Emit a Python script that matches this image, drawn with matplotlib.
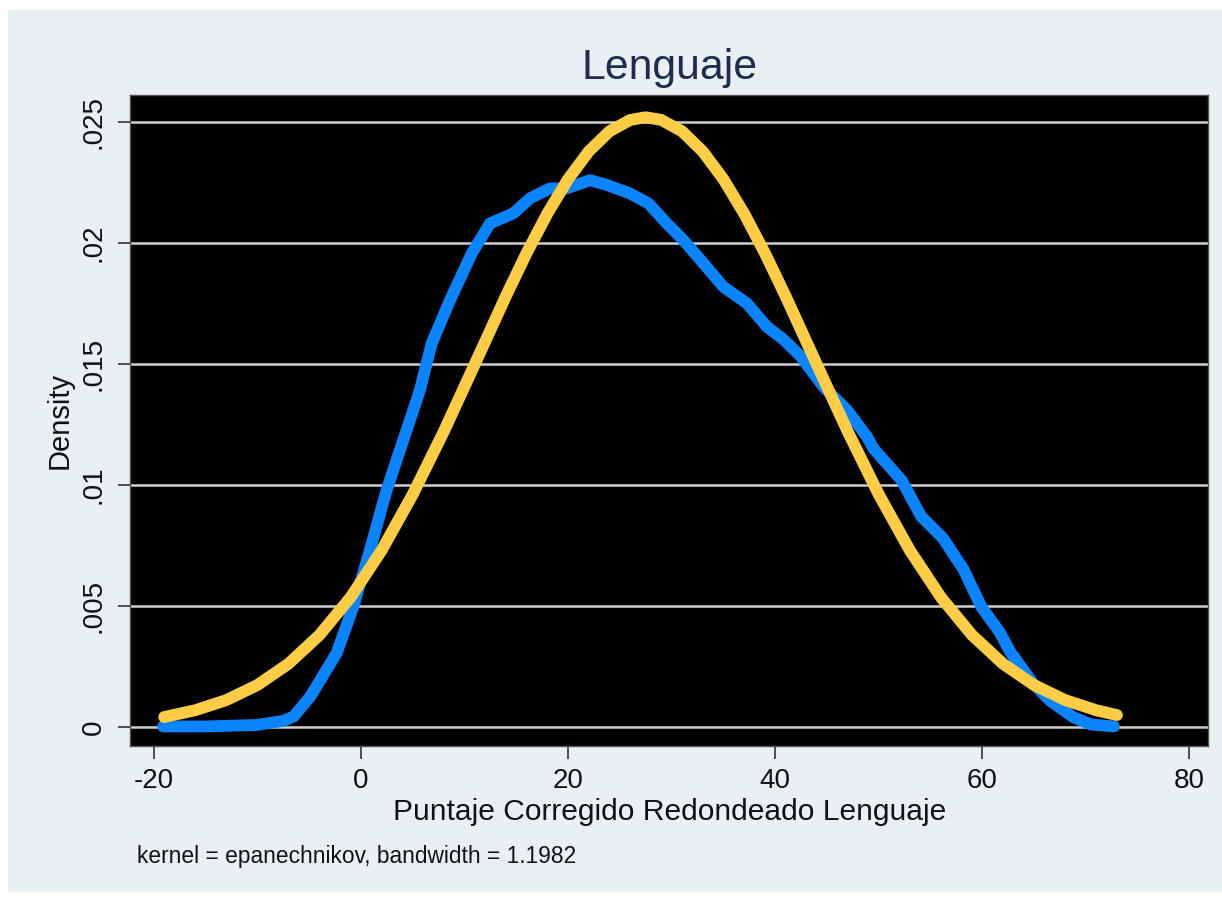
import matplotlib
matplotlib.use("Agg")
import matplotlib.pyplot as plt
from matplotlib.patches import Rectangle

# =========================
# Data
# =========================
# kernel density estimate (blue)
kernel_x = [-19.1, -15.0, -10.1, -7.5, -6.5, -4.9, -2.35, -0.74, 0.87, 2.48,
            4.09, 5.38, 5.70, 6.83, 8.60, 10.70, 12.46, 14.72, 16.33, 18.26,
            19.87, 22.13, 23.74, 25.99, 27.76, 29.54, 31.14, 33.07, 35.0,
            37.27, 39.2, 40.7, 42.4, 44.67, 46.93, 48.86, 49.5, 52.2, 54.1,
            56.2, 58.2, 59.9, 61.7, 62.7, 64.9, 66.5, 68.8, 70.5, 72.7]
kernel_y = [0.00002, 0.00002, 0.00008, 0.00025, 0.00043, 0.00125, 0.00305,
            0.00497, 0.00731, 0.00979, 0.01186, 0.01351, 0.01393, 0.01585,
            0.01764, 0.01957, 0.02081, 0.02123, 0.02185, 0.02226, 0.02226,
            0.02260, 0.02240, 0.02205, 0.02164, 0.02081, 0.02012, 0.01916,
            0.01819, 0.01751, 0.01654, 0.01605, 0.01535, 0.01406, 0.01310,
            0.01200, 0.01150, 0.01020, 0.00870, 0.00780, 0.00650, 0.00497,
            0.00390, 0.00310, 0.00180, 0.00110, 0.00040, 0.00010, 0.00002]

# normal density overlay (yellow)
normal_x = [-19, -16, -13, -10, -7, -4, -1, 2, 5, 8, 11, 14, 16, 18, 20, 22,
            24, 26, 27.5, 29, 31, 33, 35, 37, 39, 41, 44, 47, 50, 53, 56, 59,
            62, 65, 68, 71, 73]
normal_y = [0.00041, 0.00069, 0.00111, 0.00173, 0.00261, 0.00380, 0.00536,
            0.00730, 0.00961, 0.01221, 0.01500, 0.01781, 0.01959, 0.02122,
            0.02264, 0.02379, 0.02462, 0.02509, 0.02520, 0.02509, 0.02462,
            0.02379, 0.02264, 0.02122, 0.01959, 0.01781, 0.01500, 0.01221,
            0.00961, 0.00730, 0.00536, 0.00380, 0.00261, 0.00173, 0.00111,
            0.00069, 0.00049]

x_ticks = [-20, 0, 20, 40, 60, 80]
y_ticks = [0, 0.005, 0.01, 0.015, 0.02, 0.025]
y_tick_labels = ["0", ".005", ".01", ".015", ".02", ".025"]

BLUE = "#0a84ff"
YELLOW = "#ffcc45"
PANEL = "#e8f0f3"


def main():
    plt.rcParams["font.family"] = ["Liberation Sans", "DejaVu Sans"]
    plt.rcParams["axes.unicode_minus"] = False

    fig = plt.figure(figsize=(12.22, 8.97), dpi=100, facecolor="white")
    fig.patches.append(Rectangle((0.0065, 0.0056), 0.9935, 0.983,
                                 transform=fig.transFigure, facecolor=PANEL,
                                 edgecolor="none", zorder=-5))

    ax = fig.add_axes([0.1064, 0.1683, 0.8822, 0.7258])
    ax.set_zorder(2)
    ax.set_facecolor("black")

    ax.plot(kernel_x, kernel_y, color=BLUE, lw=8.5,
            solid_capstyle="round", solid_joinstyle="round", zorder=3)
    ax.plot(normal_x, normal_y, color=YELLOW, lw=8.5,
            solid_capstyle="round", solid_joinstyle="round", zorder=4)

    ax.set_xlim(-22.3, 81.8)
    ax.set_ylim(-0.00079, 0.02612)

    ax.set_xticks(x_ticks)
    ax.set_yticks(y_ticks)
    ax.set_yticklabels(y_tick_labels, rotation=90, va="center")
    ax.tick_params(axis="both", labelsize=20, length=9, width=1.2,
                   color="#333333", labelcolor="#111111")
    ax.tick_params(axis="x", pad=7)
    ax.tick_params(axis="y", pad=8)

    ax.grid(axis="y", color="#cfcfcf", lw=1.8, zorder=1)
    ax.set_axisbelow(True)
    for side in ax.spines.values():
        side.set_color("#555555")
        side.set_linewidth(1.0)

    fig.text(0.548, 0.924, "Lenguaje", ha="center", va="center",
             fontsize=30.8, color="#1e2d4f")
    fig.text(0.548, 0.0948, "Puntaje Corregido Redondeado Lenguaje",
             ha="center", va="center", fontsize=21.6, color="#111111")
    fig.text(0.049, 0.531, "Density", ha="center", va="center",
             rotation=90, fontsize=21, color="#111111")
    fig.text(0.112, 0.0446, "kernel = epanechnikov, bandwidth = 1.1982",
             ha="left", va="center", fontsize=16.4, color="#111111")

    fig.savefig("out.png", dpi=100, facecolor=fig.get_facecolor())
    plt.close(fig)


if __name__ == "__main__":
    main()
